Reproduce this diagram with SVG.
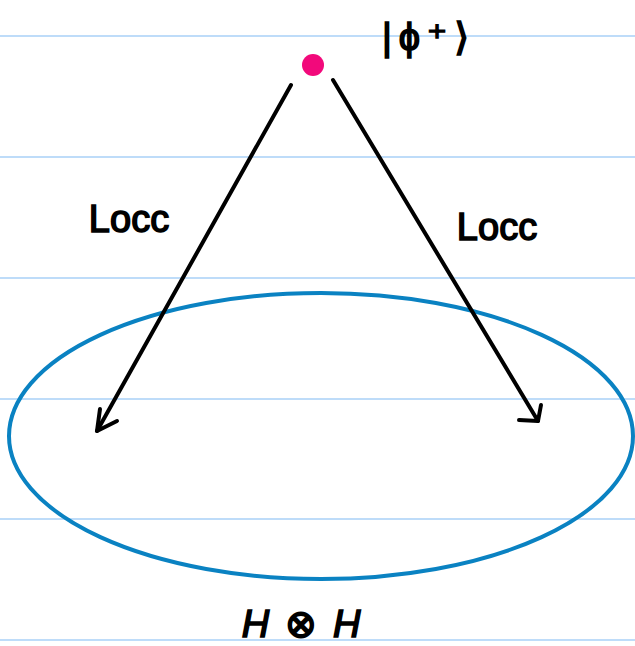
<svg xmlns="http://www.w3.org/2000/svg" width="635" height="646" viewBox="0 0 635 646">
<style>
.rule{stroke:#a9d1f7;stroke-width:1.5}
.pen{fill:none;stroke:#000;stroke-width:4;stroke-linecap:round;stroke-linejoin:round}
.lbl{font-family:"Liberation Sans","DejaVu Sans",sans-serif;font-size:38px;fill:#000;stroke:#000;stroke-width:1.6}
</style>
<rect width="635" height="646" fill="#fff"/>
<g id="rules">
<line class="rule" x1="0" y1="36" x2="635" y2="36"/>
<line class="rule" x1="0" y1="157" x2="635" y2="157"/>
<line class="rule" x1="0" y1="278" x2="635" y2="278"/>
<line class="rule" x1="0" y1="399" x2="635" y2="399"/>
<line class="rule" x1="0" y1="519" x2="635" y2="519"/>
<line class="rule" x1="0" y1="640" x2="635" y2="640"/>
</g>
<g id="space">
<ellipse cx="321" cy="436" rx="312" ry="143" fill="none" stroke="#0a82c2" stroke-width="4"/>
<text class="lbl" x="309" y="637" text-anchor="middle" font-style="italic" letter-spacing="16">H⊗H</text>
</g>
<g id="state">
<circle cx="313" cy="65" r="11" fill="#f2097b"/>
<text class="lbl" x="429" y="50" text-anchor="middle" font-size="46" letter-spacing="7">|ϕ⁺⟩</text>
</g>
<g id="connectors">
<path class="pen" d="M291 85 L97 431"/>
<path class="pen" d="M100 409 L97 431 L117 421"/>
<path class="pen" d="M333 80 L538 421"/>
<path class="pen" d="M519 420 L538 421 L541 405"/>
<text class="lbl" x="129" y="232" text-anchor="middle">Locc</text>
<text class="lbl" x="497" y="240" text-anchor="middle">Locc</text>
</g>
</svg>
